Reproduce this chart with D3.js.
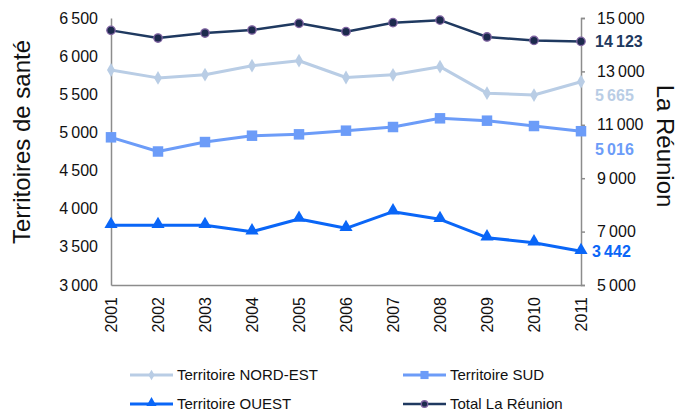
<!DOCTYPE html>
<html>
<head>
<meta charset="utf-8">
<script src="https://cdn.jsdelivr.net/npm/d3@7"></script>
<style>
  body { margin: 0; background: #fff; }
  svg { font-family: "Liberation Sans", Arial, sans-serif; }
</style>
</head>
<body>
<div id="chart"></div>
<script>
var years = ["2001","2002","2003","2004","2005","2006","2007","2008","2009","2010","2011"];
var nordEst = [5818, 5715, 5757, 5875, 5940, 5720, 5755, 5862, 5515, 5490, 5665];
var sud = [4936, 4750, 4874, 4957, 4975, 5023, 5071, 5185, 5154, 5084, 5016];
var ouest = [3783, 3783, 3783, 3699, 3865, 3743, 3961, 3861, 3620, 3555, 3442];
var total = [14537, 14250, 14437, 14550, 14800, 14488, 14825, 14920, 14290, 14160, 14123];
var leftTicks = [3000, 3500, 4000, 4500, 5000, 5500, 6000, 6500];
var rightTicks = [5000, 7000, 9000, 11000, 13000, 15000];

var width = 679, height = 416;
var x0 = 111, x1 = 581, yTop = 18, yBot = 285;

var fmt = function(v) { return d3.format(",")(v).replace(/,/g, "\u202F"); };

var svg = d3.select("#chart").append("svg").attr("width", width).attr("height", height);

var xScale = d3.scalePoint().domain(years).range([x0, x1]);
var yLeft = d3.scaleLinear().domain([3000, 6500]).range([yBot, yTop]);
var yRight = d3.scaleLinear().domain([5000, 15000]).range([yBot, yTop]);

var axisColor = "#8c8c8c";

// left axis
var gl = svg.append("g").attr("transform", "translate(" + x0 + ",0)")
    .call(d3.axisLeft(yLeft).tickValues(leftTicks).tickSize(0).tickPadding(13).tickFormat(fmt));
gl.select(".domain").attr("stroke", axisColor).attr("stroke-width", 1.5);
gl.selectAll("text").attr("font-size", "16px").attr("fill", "#111").style("font-family", "Liberation Sans, Arial, sans-serif");

// right axis
var gr = svg.append("g").attr("transform", "translate(" + x1 + ",0)")
    .call(d3.axisRight(yRight).tickValues(rightTicks).tickSize(4).tickPadding(12).tickFormat(fmt));
gr.select(".domain").attr("stroke", axisColor).attr("stroke-width", 1.5);
gr.selectAll("line").attr("stroke", axisColor).attr("stroke-width", 1.5);
gr.selectAll("text").attr("font-size", "16px").attr("fill", "#111").style("font-family", "Liberation Sans, Arial, sans-serif");

// bottom axis
var gb = svg.append("g").attr("transform", "translate(0," + yBot + ")")
    .call(d3.axisBottom(xScale).tickSize(0).tickSizeOuter(0));
gb.select(".domain").attr("stroke", axisColor).attr("stroke-width", 1.5);
gb.selectAll("text")
    .attr("font-size", "16px").attr("fill", "#111")
    .style("font-family", "Liberation Sans, Arial, sans-serif")
    .attr("text-anchor", "end")
    .attr("transform", "rotate(-90)")
    .attr("x", -12).attr("y", 0).attr("dy", "0.35em");

// axis titles
svg.append("text")
    .attr("transform", "translate(30,142) rotate(-90)")
    .attr("text-anchor", "middle")
    .attr("font-size", "24px").attr("fill", "#111")
    .text("Territoires de santé");
svg.append("text")
    .attr("transform", "translate(657,146) rotate(90)")
    .attr("text-anchor", "middle")
    .attr("font-size", "24px").attr("fill", "#111")
    .text("La Réunion");

var series = [
  {name: "Territoire NORD-EST", data: nordEst, y: yLeft, color: "#b9cde5", w: 3, marker: "diamond", labelDy: 14},
  {name: "Territoire SUD", data: sud, y: yLeft, color: "#6c9cf8", w: 3, marker: "square", labelDy: 18},
  {name: "Territoire OUEST", data: ouest, y: yLeft, color: "#0a66f7", w: 3, marker: "triangle", labelDy: 0},
  {name: "Total La Réunion", data: total, y: yRight, color: "#1f3960", w: 2.5, marker: "circle", labelDy: 0}
];

function drawMarker(g, type, color, cx, cy, scale) {
    scale = scale || 1;
    if (type == "diamond") {
        g.append("path").attr("d", d3.symbol().type(d3.symbolDiamond).size(55 * scale)())
            .attr("transform", "translate(" + cx + "," + cy + ")").attr("fill", color);
    } else if (type == "square") {
        g.append("path").attr("d", d3.symbol().type(d3.symbolSquare).size(110 * scale)())
            .attr("transform", "translate(" + cx + "," + cy + ")").attr("fill", color);
    } else if (type == "triangle") {
        g.append("path").attr("d", d3.symbol().type(d3.symbolTriangle).size(75 * scale)())
            .attr("transform", "translate(" + cx + "," + (cy - 1) + ")").attr("fill", color);
    } else {
        g.append("circle").attr("cx", cx).attr("cy", cy).attr("r", 4.2 * Math.sqrt(scale))
            .attr("fill", "#1c2a4d").attr("stroke", "#8064a2").attr("stroke-width", 1.3);
    }
}

series.forEach(function(s) {
    var line = d3.line()
        .x(function(d, i) { return xScale(years[i]); })
        .y(function(d) { return s.y(d); });
    svg.append("path").datum(s.data)
        .attr("d", line)
        .attr("fill", "none")
        .attr("stroke", s.color)
        .attr("stroke-width", s.w)
        .attr("stroke-linejoin", "round");
    var mg = svg.append("g");
    s.data.forEach(function(d, i) {
        drawMarker(mg, s.marker, s.color, xScale(years[i]), s.y(d));
    });
    var last = s.data[s.data.length - 1];
    svg.append("text")
        .attr("x", x1 + (s.marker == "triangle" ? 11 : 14))
        .attr("y", s.y(last) + s.labelDy)
        .attr("dy", "0.35em")
        .attr("font-size", "16px")
        .attr("font-weight", "bold")
        .attr("fill", s.color)
        .text(fmt(last));
});

// legend
var legendPos = [[130, 375], [403, 375], [130, 404], [403, 404]];
series.forEach(function(s, i) {
    var lx = legendPos[i][0], ly = legendPos[i][1];
    var lg = svg.append("g");
    lg.append("line").attr("x1", lx).attr("x2", lx + 43).attr("y1", ly).attr("y2", ly)
        .attr("stroke", s.color).attr("stroke-width", s.w);
    drawMarker(lg, s.marker, s.color, lx + 21.5, ly, 0.6);
    lg.append("text").attr("x", lx + 47).attr("y", ly).attr("dy", "0.35em")
        .attr("font-size", "15px").attr("fill", "#111").text(s.name);
});
</script>
</body>
</html>
